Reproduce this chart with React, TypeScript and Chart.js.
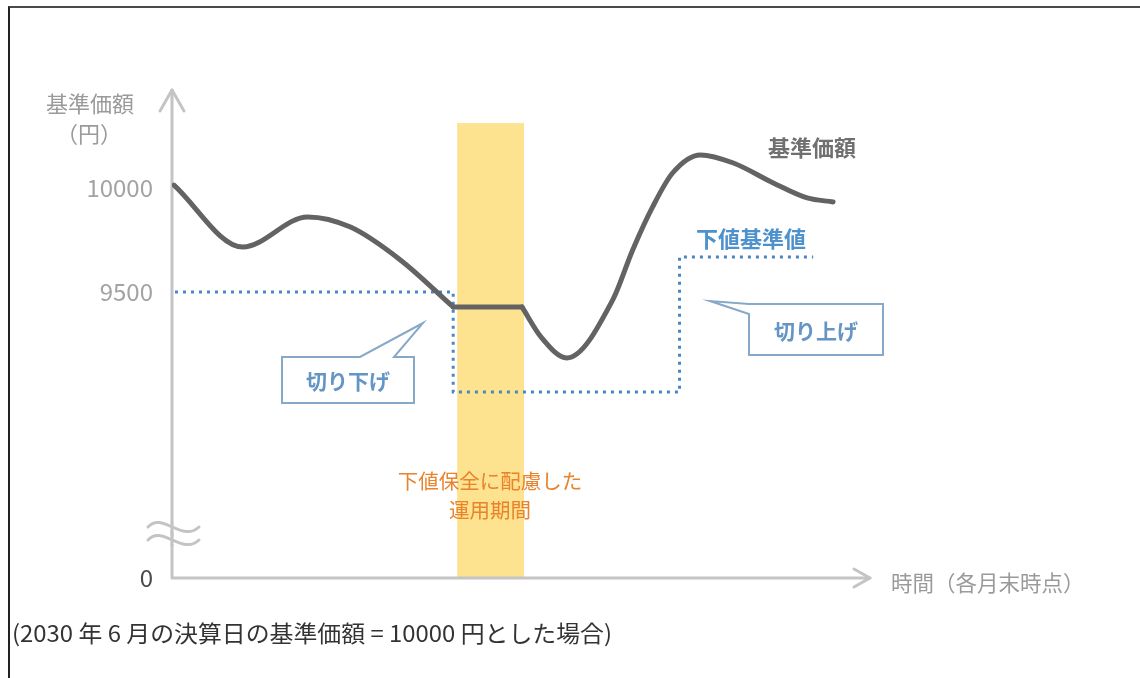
import React, { useEffect, useRef } from 'react';
import { Chart, registerables } from 'chart.js';

Chart.register(...registerables);

// 基準価額 (three pieces so the flat stretch keeps its sharp corners)
const NAV_LEFT_X = [0.2, 7.1, 13.6, 17.9, 22.9, 28.2];
const NAV_LEFT_Y = [10014, 9716, 9861, 9812, 9654, 9428];
const NAV_FLAT_X = [28.2, 35.1];
const NAV_FLAT_Y = [9428, 9428];
const NAV_RIGHT_X = [35.1, 37.0, 39.6, 44.2, 46.2, 48.2, 50.2, 53.0, 56.3, 60.3, 63.7, 66.3];
const NAV_RIGHT_Y = [9428, 9284, 9183, 9462, 9702, 9909, 10072, 10159, 10120, 10024, 9952, 9933];

// 下値基準値 (stepped)
const FLOOR_X = [0.3, 28.2, 50.9, 64.3];
const FLOOR_Y = [9500, 9019, 9668, 9668];

// 下値保全に配慮した運用期間
const BAND_X = [28.6, 35.3];
const BAND_TOP = 10312;

const Y_TICKS = [10000, 9500];
const Y_MIN = 8125; // shown as 0 (broken axis)
const Y_MAX = 10471;
const X_MIN = 0;
const X_MAX = 70;

const FONT = "'Noto Sans CJK JP', 'Noto Sans', sans-serif";
const FOOTNOTE = '(2030 年 6 月の決算日の基準価額 = 10000 円とした場合)';

const toPoints = (xs: number[], ys: number[]) => xs.map((x, i) => ({ x, y: ys[i] }));

const diagramPlugin = {
  id: 'diagram',
  beforeDatasetsDraw(chart: any) {
    const { ctx, chartArea, scales } = chart;
    const { x, y } = scales;
    const ox = chartArea.left;
    const oy = chartArea.bottom;

    ctx.save();
    // yellow band
    const bl = x.getPixelForValue(BAND_X[0]);
    const br = x.getPixelForValue(BAND_X[1]);
    const bt = y.getPixelForValue(BAND_TOP);
    ctx.fillStyle = '#fde28f';
    ctx.fillRect(bl, bt, br - bl, oy - bt);

    // axes with open arrow heads
    ctx.strokeStyle = '#c4c4c4';
    ctx.lineWidth = 3;
    ctx.lineCap = 'round';
    ctx.lineJoin = 'round';
    ctx.beginPath();
    ctx.moveTo(ox, oy);
    ctx.lineTo(ox, chartArea.top);
    ctx.moveTo(ox, oy);
    ctx.lineTo(chartArea.right, oy);
    ctx.stroke();

    ctx.beginPath();
    ctx.moveTo(ox - 12, chartArea.top + 21);
    ctx.lineTo(ox, chartArea.top);
    ctx.lineTo(ox + 12, chartArea.top + 21);
    ctx.moveTo(chartArea.right - 16, oy - 9);
    ctx.lineTo(chartArea.right, oy);
    ctx.lineTo(chartArea.right - 16, oy + 9);
    ctx.stroke();

    // break mark on the y axis
    const wave = (wy: number) => {
      ctx.beginPath();
      ctx.moveTo(ox - 24, wy);
      ctx.bezierCurveTo(ox - 10, wy - 16, ox + 10, wy + 16, ox + 27, wy);
      ctx.stroke();
    };
    ctx.strokeStyle = '#ffffff';
    ctx.lineWidth = 7;
    [527, 540].forEach(wave);
    ctx.strokeStyle = '#c4c4c4';
    ctx.lineWidth = 3;
    ctx.beginPath();
    ctx.moveTo(ox, 522);
    ctx.lineTo(ox, 545);
    ctx.stroke();
    [527, 540].forEach(wave);
    ctx.restore();
  },
  afterDatasetsDraw(chart: any) {
    const { ctx } = chart;
    ctx.save();
    ctx.textBaseline = 'middle';

    // axis titles
    ctx.fillStyle = '#9a9a9a';
    ctx.textAlign = 'center';
    ctx.font = `22px ${FONT}`;
    ctx.fillText('基準価額', 90, 104);
    ctx.fillText('（円）', 89, 134);
    ctx.textAlign = 'left';
    ctx.font = `21.5px ${FONT}`;
    ctx.fillText('時間（各月末時点）', 891, 583);

    // series labels
    ctx.textAlign = 'center';
    ctx.fillStyle = '#707070';
    ctx.font = `bold 22px ${FONT}`;
    ctx.fillText('基準価額', 812, 148);
    ctx.fillStyle = '#4d91cd';
    ctx.fillText('下値基準値', 751, 239);

    // band caption
    ctx.fillStyle = '#e9832c';
    ctx.font = `20.5px ${FONT}`;
    ctx.fillText('下値保全に配慮した', 490, 481);
    ctx.fillText('運用期間', 490, 510);

    // callouts
    ctx.strokeStyle = '#86a9c9';
    ctx.fillStyle = '#ffffff';
    ctx.lineWidth = 2;
    ctx.lineJoin = 'miter';
    ctx.beginPath();
    ctx.moveTo(282, 357);
    ctx.lineTo(360, 357);
    ctx.lineTo(423, 323);
    ctx.lineTo(394, 357);
    ctx.lineTo(414, 357);
    ctx.lineTo(414, 403);
    ctx.lineTo(282, 403);
    ctx.closePath();
    ctx.fill();
    ctx.stroke();

    ctx.beginPath();
    ctx.moveTo(749, 304);
    ctx.lineTo(883, 304);
    ctx.lineTo(883, 355);
    ctx.lineTo(749, 355);
    ctx.lineTo(749, 314);
    ctx.lineTo(710, 301);
    ctx.closePath();
    ctx.fill();
    ctx.stroke();

    ctx.fillStyle = '#6495c4';
    ctx.font = `bold 21px ${FONT}`;
    ctx.fillText('切り下げ', 348, 381);
    ctx.fillText('切り上げ', 816, 331);

    // footnote, a tall narrow face in the original
    ctx.textAlign = 'left';
    ctx.fillStyle = '#333333';
    ctx.font = `23px ${FONT}`;
    const w = ctx.measureText(FOOTNOTE).width;
    ctx.translate(12, 633);
    ctx.scale(600 / w, 1);
    ctx.fillText(FOOTNOTE, 0, 0);
    ctx.restore();
  },
};

const App: React.FC = () => {
  const chartRef = useRef<HTMLCanvasElement>(null);
  const chartInstance = useRef<Chart | null>(null);

  useEffect(() => {
    if (!chartRef.current) return;
    if (chartInstance.current) chartInstance.current.destroy();

    const navStyle = {
      borderColor: '#636363',
      borderWidth: 5,
      borderCapStyle: 'round' as const,
      borderJoinStyle: 'round' as const,
      pointRadius: 0,
      fill: false,
    };

    chartInstance.current = new Chart(chartRef.current, {
      type: 'line',
      data: {
        datasets: [
          { label: '基準価額', data: toPoints(NAV_LEFT_X, NAV_LEFT_Y), cubicInterpolationMode: 'monotone', ...navStyle },
          { label: '基準価額', data: toPoints(NAV_FLAT_X, NAV_FLAT_Y), tension: 0, ...navStyle },
          { label: '基準価額', data: toPoints(NAV_RIGHT_X, NAV_RIGHT_Y), cubicInterpolationMode: 'monotone', ...navStyle },
          {
            label: '下値基準値',
            data: toPoints(FLOOR_X, FLOOR_Y),
            stepped: 'before',
            borderColor: '#4a86c1',
            borderWidth: 3,
            borderDash: [3, 5],
            borderCapStyle: 'butt',
            pointRadius: 0,
            fill: false,
          },
        ],
      },
      options: {
        animation: false,
        responsive: true,
        maintainAspectRatio: false,
        events: [],
        layout: { padding: { left: 0, right: 270, top: 90, bottom: 100 } },
        plugins: {
          legend: { display: false },
          tooltip: { enabled: false },
        },
        scales: {
          x: { type: 'linear', display: false, min: X_MIN, max: X_MAX },
          y: {
            type: 'linear',
            min: Y_MIN,
            max: Y_MAX,
            border: { display: false },
            grid: { display: false, drawTicks: false },
            afterFit: (scale: any) => {
              scale.width = 172;
            },
            afterBuildTicks: (axis: any) => {
              axis.ticks = [Y_MIN, ...Y_TICKS].map((value) => ({ value }));
            },
            ticks: {
              padding: 19,
              font: { family: FONT, size: 24 },
              color: (c: any) => (c.tick && c.tick.value === Y_MIN ? '#4a4a4a' : '#a3a3a3'),
              callback: (value: any) => (value === Y_MIN ? '0' : String(value)),
            },
          },
        },
      },
      plugins: [diagramPlugin],
    });

    return () => {
      if (chartInstance.current) {
        chartInstance.current.destroy();
        chartInstance.current = null;
      }
    };
  }, []);

  return (
    <div
      style={{
        position: 'absolute',
        left: 0,
        top: 0,
        width: 1140,
        height: 678,
        overflow: 'hidden',
        background: '#ffffff',
      }}
    >
      <canvas ref={chartRef} />
      <div
        style={{
          position: 'absolute',
          left: 8,
          top: 6,
          width: 1132,
          height: 672,
          boxSizing: 'border-box',
          borderTop: '2px solid #4a4a4a',
          borderLeft: '2px solid #222222',
          pointerEvents: 'none',
        }}
      />
    </div>
  );
};

export default App;
